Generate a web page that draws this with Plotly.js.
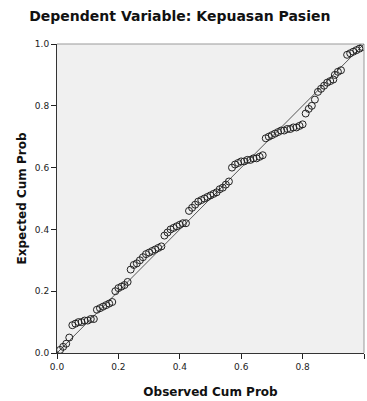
<!DOCTYPE html>
<html>
<head>
<meta charset="utf-8">
<script src="https://cdn.plot.ly/plotly-3.0.1.min.js"></script>
<style>html,body{margin:0;padding:0;background:#fff;}#chart{width:367px;height:401px;}</style>
</head>
<body>
<div id="chart"></div>
<script>
var observedCumProb = [0.01,0.02,0.03,0.04,
  0.05,0.06,0.07,0.08,0.09,0.10,0.11,0.12,
  0.13,0.14,0.15,0.16,0.17,0.18,
  0.19,0.20,0.21,0.22,0.23,
  0.24,0.25,0.26,0.27,0.28,0.29,
  0.30,0.31,0.32,0.33,0.34,
  0.35,0.36,0.37,0.38,0.39,0.40,0.41,0.42,
  0.43,0.44,0.45,0.46,0.47,0.48,0.49,0.50,0.51,0.52,0.53,0.54,0.55,0.56,
  0.57,0.58,0.59,0.60,0.61,0.62,0.63,0.64,0.65,0.66,0.67,
  0.68,0.69,0.70,0.71,0.72,0.73,0.74,0.75,0.76,0.77,0.78,0.79,0.80,
  0.81,0.82,0.83,0.84,
  0.85,0.86,0.87,0.88,0.89,0.90,
  0.905,0.915,0.925,
  0.945,0.955,0.965,0.975,0.985,0.995];
var expectedCumProb = [0.01,0.02,0.03,0.05,
  0.09,0.095,0.10,0.10,0.105,0.105,0.11,0.11,
  0.14,0.145,0.15,0.155,0.16,0.165,
  0.20,0.21,0.215,0.22,0.23,
  0.27,0.285,0.29,0.30,0.31,0.32,
  0.325,0.33,0.335,0.34,0.345,
  0.38,0.39,0.40,0.405,0.41,0.415,0.42,0.42,
  0.46,0.47,0.48,0.49,0.495,0.50,0.505,0.51,0.515,0.52,0.53,0.535,0.545,0.555,
  0.60,0.61,0.615,0.62,0.62,0.625,0.625,0.63,0.63,0.635,0.64,
  0.695,0.70,0.705,0.71,0.715,0.72,0.72,0.725,0.725,0.73,0.73,0.735,0.74,
  0.775,0.79,0.80,0.82,
  0.845,0.855,0.865,0.875,0.88,0.885,
  0.90,0.91,0.915,
  0.965,0.97,0.975,0.98,0.985,0.99];
var refLineX = [0, 1];
var refLineY = [0, 1];
var tickVals = [0, 0.2, 0.4, 0.6, 0.8, 1.0];
var tickText = ["0.0", "0.2", "0.4", "0.6", "0.8", "1.0"];

var traces = [
  {x: refLineX, y: refLineY, mode: 'lines', type: 'scatter',
   line: {color: '#555555', width: 1}, hoverinfo: 'skip'},
  {x: observedCumProb, y: expectedCumProb, mode: 'markers', type: 'scatter',
   marker: {symbol: 'circle-open', size: 7, color: '#222222', line: {width: 1, color: '#222222'}}}
];
var axisCommon = {
  range: [0, 1], tickvals: tickVals, ticktext: tickText,
  ticks: 'outside', ticklen: 5, tickwidth: 1, tickcolor: '#222',
  showgrid: false, zeroline: false, showline: true, linecolor: '#333', linewidth: 1,
  tickfont: {family: 'DejaVu Sans', size: 9, color: '#222'}
};
var layout = {
  width: 367, height: 401,
  margin: {l: 57, r: 3, t: 44, b: 48},
  paper_bgcolor: '#ffffff', plot_bgcolor: '#f0f0f0',
  showlegend: false,
  title: {text: '<b>Dependent Variable: Kepuasan Pasien</b>', x: 0.49, xanchor: 'center', y: 0.96, yanchor: 'middle',
          font: {family: 'DejaVu Sans', size: 14, color: '#111'}},
  xaxis: Object.assign({}, axisCommon, {
    title: {text: '<b>Observed Cum Prob</b>', font: {family: 'DejaVu Sans', size: 12, color: '#111'}, standoff: 16}
  }),
  yaxis: Object.assign({}, axisCommon, {
    title: {text: '<b>Expected Cum Prob</b>', font: {family: 'DejaVu Sans', size: 12, color: '#111'}, standoff: 5}
  }),
  shapes: [
    {type: 'line', xref: 'paper', yref: 'paper', x0: 0, x1: 1, y0: 1, y1: 1, line: {color: '#999', width: 1}},
    {type: 'line', xref: 'paper', yref: 'paper', x0: 1, x1: 1, y0: 0, y1: 1, line: {color: '#999', width: 1}}
  ]
};
Plotly.newPlot('chart', traces, layout, {displayModeBar: false, staticPlot: true});
</script>
</body>
</html>
